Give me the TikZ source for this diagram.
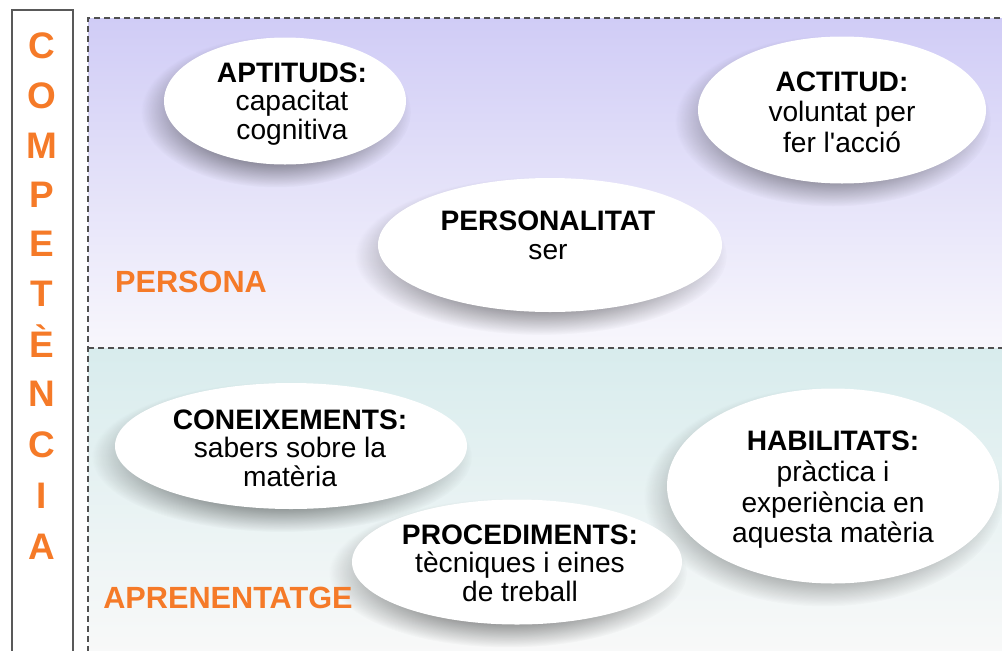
\documentclass[tikz,border=0pt]{standalone}
\usepackage{fontspec}
\setmainfont{Liberation Sans}[Ligatures=TeXOff]
\usetikzlibrary{shapes.geometric,fadings}
\definecolor{orangec}{RGB}{245,122,40}
\definecolor{lavtop}{RGB}{208,204,246}
\definecolor{lavbot}{RGB}{248,247,252}
\definecolor{cyantop}{RGB}{216,236,237}
\definecolor{cyanbot}{RGB}{249,249,249}
\definecolor{framec}{RGB}{80,80,80}
\pgfdeclareradialshading{myshadowshading}{\pgfpointorigin}{color(0bp)=(transparent!0); color(12bp)=(transparent!0); color(25bp)=(transparent!100); color(50bp)=(transparent!100)}
\pgfdeclarefading{softfade}{\pgfuseshading{myshadowshading}}
% name, x, y, width(px), height(px)
\newcommand\mybubble[5]{%
  \fill[black, fill opacity=0.6, path fading=softfade]
    ({#2-9},{#3+11}) ellipse [x radius={#4/2+14}, y radius={#5/2+12}];
  \node[bubble, minimum width=#4*0.75pt, minimum height=#5*0.75pt] (#1) at (#2,#3) {};}
\begin{document}
\begin{tikzpicture}[x=0.75pt,y=-0.75pt,
  bubble/.style={ellipse, fill=white, draw=none, inner sep=0pt},
  txt/.style={align=center, text=black, inner sep=0pt},
  biglabel/.style={font=\fontsize{23}{26}\selectfont\bfseries, text=orangec, inner sep=0pt},
  letter/.style={font=\fontsize{27.7}{30}\selectfont\bfseries, text=orangec, inner sep=0pt, anchor=base},
  frame/.style={draw=framec, line width=1.2pt, dash pattern=on 4.5pt off 3pt}]
\useasboundingbox (0,0) rectangle (1002,650);
\clip (0,0) rectangle (1002,650);
% backgrounds
\shade[top color=lavtop, bottom color=lavbot] (88,18) rectangle (1010,348);
\shade[top color=cyantop, bottom color=cyanbot] (88,348) rectangle (1010,660);
% left box
\draw[draw=black!65, line width=1.1pt] (12,10) rectangle (73,670);
% dashed frame
\draw[frame] (1010,18) -- (88,18) -- (88,660);
\draw[frame] (88,348) -- (1010,348);
% letters
\foreach \l/\yy [count=\i] in {C/45,O/95,M/145,P/194,E/243,T/293,\`E/344,N/393,C/444,I/495,A/546}{
  \node[letter] (L\i) at (42,\yy+13.3) {\l};
}
% ellipses with shadows
\mybubble{e1}{285}{101}{242}{127}
\mybubble{e2}{842}{110}{288}{147}
\mybubble{e3}{550}{245}{344}{134}
\mybubble{e4}{291}{446}{352}{126}
\mybubble{e5}{833}{486}{332}{195}
\mybubble{e6}{517}{562}{330}{125}
% texts
\node[txt, font=\fontsize{21.1}{21.5}\selectfont] (t1) at (292,104) {\textbf{APTITUDS:}\\capacitat\\cognitiva};
\node[txt, font=\fontsize{21.1}{23}\selectfont] (t2) at (842,112) {\textbf{ACTITUD:}\\voluntat per\\fer l'acció};
\node[txt, font=\fontsize{21.1}{22}\selectfont] (t3) at (548,235) {\textbf{PERSONALITAT}\\ser};
\node[txt, font=\fontsize{21.1}{21.5}\selectfont] (t4) at (290,448) {\textbf{CONEIXEMENTS:}\\sabers sobre la\\matèria};
\node[txt, font=\fontsize{21.1}{23}\selectfont] (t5) at (833,490) {\textbf{HABILITATS:}\\pràctica i\\experiència en\\aquesta matèria};
\node[txt, font=\fontsize{21.1}{21.5}\selectfont] (t6) at (520,563) {\textbf{PROCEDIMENTS:}\\tècniques i eines\\de treball};
% labels
\node[biglabel] (persona) at (191,282) {PERSONA};
\node[biglabel] (aprenentatge) at (228,598) {APRENENTATGE};
\end{tikzpicture}
\end{document}
